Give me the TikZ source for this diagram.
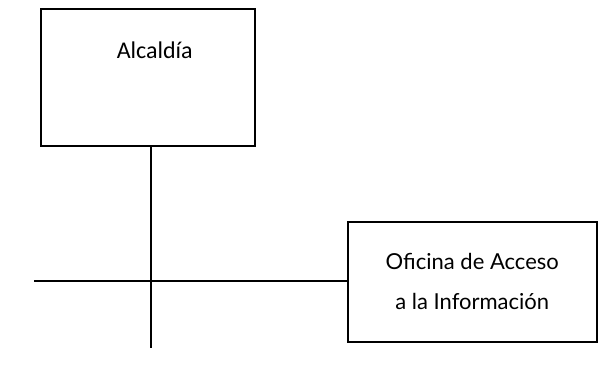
\documentclass[tikz,border=0pt]{standalone}
\usepackage{fontspec}
\newfontfamily\calfont{Carlito}
\newfontfamily\gillfont{Lato}
\begin{document}
\begin{tikzpicture}[x=1pt,y=-1pt,
  orgbox/.style={draw=black, line width=1.5pt, fill=white, inner sep=0pt},
  conn/.style={draw=black, line width=1.5pt}]
\useasboundingbox[fill=white] (0,0) rectangle (610,376);
\node[orgbox, minimum width=214pt, minimum height=137pt, anchor=north west,
      text height=16pt, text depth=53pt,
      font=\calfont\fontsize{24}{29}\selectfont] (alc) at (40,8) {\hspace*{14pt}Alcaldía};
\node[orgbox, minimum width=249pt, minimum height=120pt, anchor=north west,
      align=center, font=\gillfont\fontsize{22}{40}\selectfont] (ofi) at (347,221)
      {Oficina de Acceso\\a la Información};
\coordinate (top) at (151,145);
\coordinate (bot) at (151,348);
\coordinate (lft) at (34,281);
\draw[conn] (alc.south -| top) -- (bot);
\draw[conn] (lft) -- (ofi.west |- lft);
\end{tikzpicture}
\end{document}
